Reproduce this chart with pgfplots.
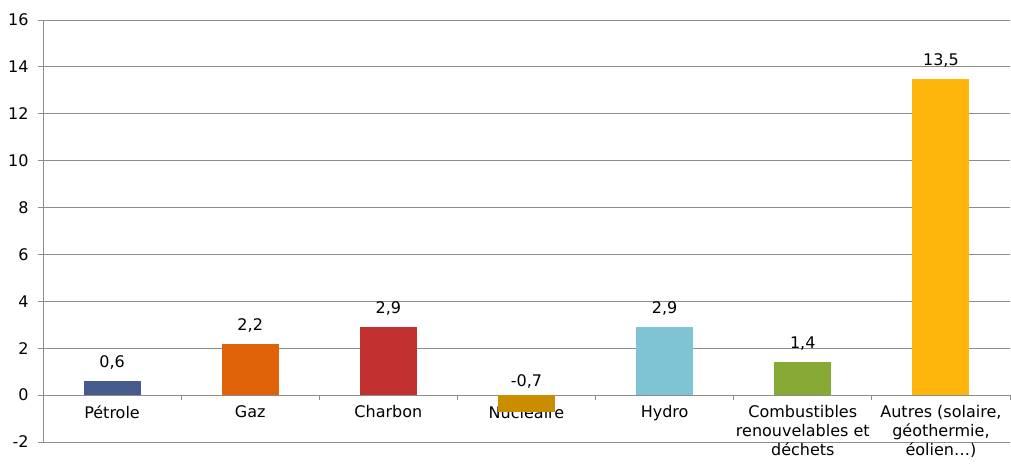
\documentclass[border=0pt]{standalone}
\usepackage{pgfplots}
\pgfplotsset{compat=1.18}
\usepackage{fontspec}
\setmainfont{DejaVu Sans}
\definecolor{cpetrole}{HTML}{465A8C}
\definecolor{cgaz}{HTML}{E0630A}
\definecolor{ccharbon}{HTML}{C2302F}
\definecolor{cnucl}{HTML}{C88E00}
\definecolor{chydro}{HTML}{7FC4D4}
\definecolor{ccomb}{HTML}{86AA33}
\definecolor{cautres}{HTML}{FFB60B}
\definecolor{cgrid}{HTML}{8C8C8C}
\begin{document}
\begin{tikzpicture}
\begin{axis}[
  scale only axis,
  width=967pt, height=422pt,
  xmin=-0.5, xmax=6.5,
  ymin=-2, ymax=16,
  ytick={-2,0,...,16},
  xtick={0,...,6},
  xticklabels={P\'etrole,Gaz,Charbon,Nucl\'eaire,Hydro,{Combustibles\\renouvelables et\\d\'echets},{Autres (solaire,\\g\'eothermie,\\\'eolien…)}},
  minor xtick={-0.5,0.5,...,6.5},
  axis x line=middle,
  axis y line=left,
  axis line style={draw=cgrid, -, line width=0.8pt},
  ymajorgrids,
  grid style={draw=cgrid, line width=0.8pt},
  tick align=outside,
  major tick length=5pt,
  minor tick length=5pt,
  major x tick style={draw=none},
  minor x tick style={draw=cgrid, line width=0.8pt},
  ytick style={draw=cgrid, line width=0.8pt},
  xticklabel style={align=center, anchor=north, yshift=-2pt},
  yticklabel style={xshift=-6pt},
  tick label style={font=\fontsize{16}{19}\selectfont},
  /pgf/number format/assume math mode=true,
  nodes near coords={\pgfmathprintnumber[fixed,precision=1,use comma]{\pgfplotspointmeta}},
  nodes near coords align={above},
  every node near coord/.append style={font=\fontsize{16}{19}\selectfont, yshift=8pt},
  clip=false,
]
\addplot[ybar, bar width=57pt, fill=cpetrole, draw=none] coordinates {(0,0.6)};
\addplot[ybar, bar width=57pt, fill=cgaz, draw=none] coordinates {(1,2.2)};
\addplot[ybar, bar width=57pt, fill=ccharbon, draw=none] coordinates {(2,2.9)};
\addplot[ybar, bar width=57pt, fill=cnucl, draw=none,
  every node near coord/.append style={yshift=12pt}] coordinates {(3,-0.7)};
\addplot[ybar, bar width=57pt, fill=chydro, draw=none] coordinates {(4,2.9)};
\addplot[ybar, bar width=57pt, fill=ccomb, draw=none] coordinates {(5,1.4)};
\addplot[ybar, bar width=57pt, fill=cautres, draw=none] coordinates {(6,13.5)};
\end{axis}
\path (current axis.south west) +(-43pt,-24pt) (current axis.north east) +(1pt,20pt);
\end{tikzpicture}
\end{document}
